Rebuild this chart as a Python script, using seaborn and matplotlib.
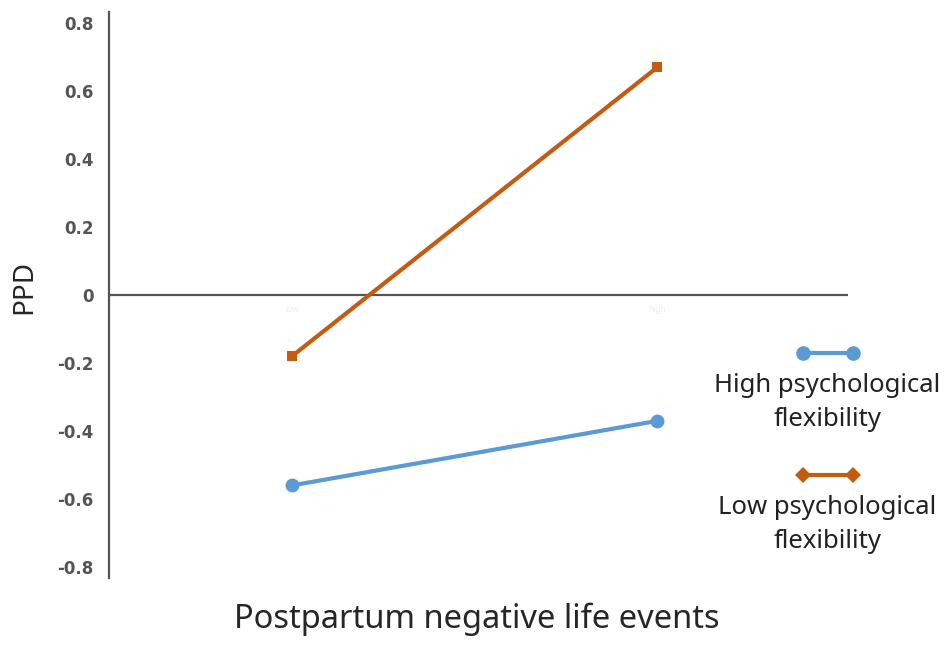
import pandas as pd
import matplotlib
matplotlib.use("Agg")
import matplotlib.pyplot as plt
import seaborn as sns
from matplotlib.lines import Line2D

# --- data ---
events = ["Low", "High"]
high_flex = [-0.56, -0.37]
low_flex = [-0.18, 0.67]
series_names = ["High psychological\nflexibility", "Low psychological\nflexibility"]
y_ticks = [-0.8, -0.6, -0.4, -0.2, 0, 0.2, 0.4, 0.6, 0.8]
y_tick_labels = ["-0.8", "-0.6", "-0.4", "-0.2", "0", "0.2", "0.4", "0.6", "0.8"]

BLUE = "#5b9bd5"
ORANGE = "#c55a11"

df = pd.DataFrame({
    "pos": list(range(len(events))) * 2,
    "PPD": high_flex + low_flex,
    "group": [series_names[0]] * 2 + [series_names[1]] * 2,
})

sns.set_style("white")
plt.rcParams["font.family"] = ["Noto Sans", "DejaVu Sans"]

fig = plt.figure(figsize=(9.49, 6.45), dpi=100)
ax = fig.add_axes([0.115, 0.104, 0.779, 0.877])

sns.lineplot(
    data=df, x="pos", y="PPD", hue="group", style="group",
    palette={series_names[0]: BLUE, series_names[1]: ORANGE},
    markers={series_names[0]: "o", series_names[1]: "s"},
    dashes=False, linewidth=3, markersize=10, markeredgewidth=0,
    legend=False, ax=ax,
)
# make the square markers a bit smaller, as in the reference
ax.lines[1].set_markersize(7.5)
ax.axhline(0, color="#555555", linewidth=1.6, zorder=1)

ax.set_xlim(-0.50, 1.523)
ax.set_ylim(-0.832, 0.832)
ax.set_yticks(y_ticks)
ax.set_yticklabels(y_tick_labels, fontsize=12, fontweight="bold",
                   color="#555555", family="DejaVu Sans")
ax.set_xticks([])
for i, ev in enumerate(events):
    ax.text(i, -0.03, ev.lower(), ha="center", va="top", fontsize=6, color="#ececec")

ax.tick_params(axis="y", length=0, pad=11)
for side in ["top", "right", "bottom"]:
    ax.spines[side].set_visible(False)
ax.spines["left"].set_color("#555555")
ax.spines["left"].set_linewidth(1.6)

ax.set_ylabel("")
ax.set_xlabel("")
fig.text(24 / 949, 1 - 287 / 645, "PPD", rotation=90, ha="center", va="center", fontsize=20)
fig.text(0.502, 0.040, "Postpartum negative life events", ha="center", va="center", fontsize=23.5)

# legend: handle above label, placed at right
leg_items = [(series_names[0], BLUE, "o", 0.453), (series_names[1], ORANGE, "D", 0.264)]
for name, col, mk, yy in leg_items:
    fig.add_artist(Line2D([0.846, 0.899], [yy, yy], color=col, linewidth=3,
                          marker=mk, markersize=10.5 if mk == "o" else 8.5,
                          markeredgewidth=0, transform=fig.transFigure))
    fig.text(0.872, yy - 0.031, name, ha="center", va="top", fontsize=18.5,
             linespacing=1.5, color="#222222")

fig.savefig("out.png", dpi=100)
